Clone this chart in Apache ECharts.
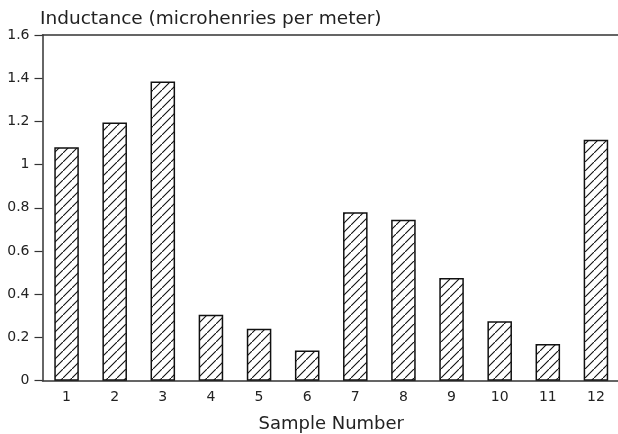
<!DOCTYPE html>
<html>
<head>
<meta charset="utf-8">
<script src="https://cdn.jsdelivr.net/npm/echarts@6/dist/echarts.min.js"></script>
<style>html,body{margin:0;padding:0;background:#fff}#c{width:618px;height:434px}</style>
</head>
<body>
<div id="c"></div>
<script>
const categories = ['1','2','3','4','5','6','7','8','9','10','11','12'];
const inductance = [1.08, 1.195, 1.385, 0.305, 0.24, 0.14, 0.78, 0.745, 0.475, 0.275, 0.17, 1.115];
const yTicks = { min: 0, max: 1.6, interval: 0.2 };

const T = 9;
const pat = document.createElement('canvas');
pat.width = T; pat.height = T;
const g = pat.getContext('2d');
g.fillStyle = '#fff'; g.fillRect(0,0,T,T);
g.strokeStyle = '#111'; g.lineWidth = 1.1;
g.beginPath();
g.moveTo(-1, T+1); g.lineTo(T+1, -1);
g.moveTo(-T-1, 1); g.lineTo(1, -T-1);
g.moveTo(T-1, 2*T+1); g.lineTo(2*T+1, T-1);
g.stroke();

const chart = echarts.init(document.getElementById('c'), null, {renderer: 'canvas'});
const font = 'DejaVu Sans';
chart.setOption({
  animation: false,
  title: {
    text: 'Inductance (microhenries per meter)',
    left: 35, top: 5,
    textStyle: { fontFamily: font, fontSize: 18.5, fontWeight: 'normal', color: '#222' }
  },
  grid: { left: 42.5, right: -2, top: 35, bottom: 53.3, containLabel: false, outerBoundsMode: 'none' },
  xAxis: [{
    type: 'category', data: categories,
    axisLine: { show: true, lineStyle: { color: '#333', width: 1.5 } },
    axisTick: { show: false },
    axisLabel: { fontFamily: font, fontSize: 14, color: '#222', margin: 10 },
    name: 'Sample Number', nameLocation: 'middle', nameGap: 35,
    nameTextStyle: { fontFamily: font, fontSize: 18, color: '#222' }
  }, {
    type: 'category', data: categories, position: 'top',
    axisLine: { show: true, lineStyle: { color: '#333', width: 1.5 } },
    axisTick: { show: false }, axisLabel: { show: false }
  }],
  yAxis: {
    type: 'value', min: yTicks.min, max: yTicks.max, interval: yTicks.interval,
    axisLine: { show: true, lineStyle: { color: '#333', width: 1.5 } },
    axisTick: { show: true, length: 8, lineStyle: { color: '#333', width: 1.2 } },
    axisLabel: { fontFamily: font, fontSize: 14, color: '#222', margin: 13 },
    splitLine: { show: false }
  },
  series: [{
    type: 'bar', data: inductance, barWidth: '51%',
    itemStyle: { color: { image: pat, repeat: 'repeat' }, borderColor: '#111', borderWidth: 1.5 }
  }]
});
</script>
</body>
</html>
